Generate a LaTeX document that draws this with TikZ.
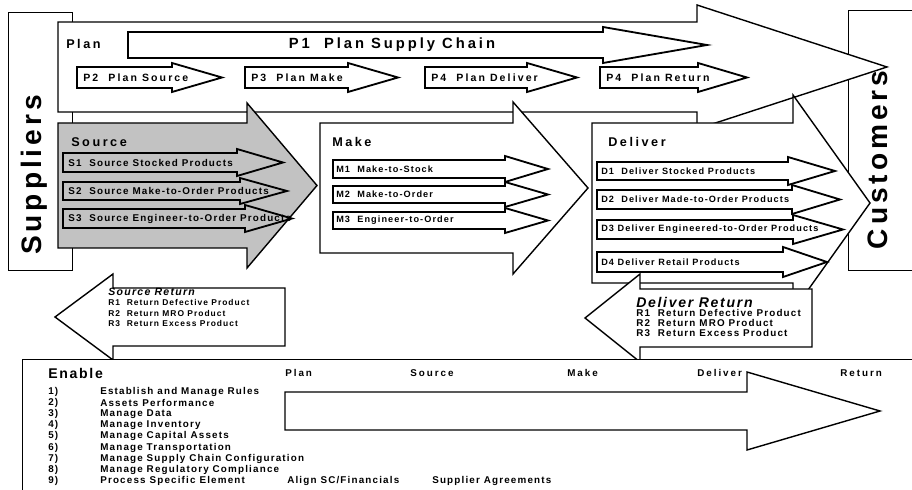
\documentclass[tikz,border=0pt]{standalone}
\usepackage{fontspec}
\setmainfont{Liberation Sans}
\newfontfamily\scorwide{Liberation Sans}[LetterSpace=20]
\newfontfamily\scormid{Liberation Sans}[LetterSpace=12]
\newfontfamily\scorbig{Liberation Sans}[LetterSpace=14]
\usepackage{tikz}
\usetikzlibrary{positioning}
\definecolor{srcgray}{gray}{0.76}
\newcommand{\blockarrow}[7][]{%
  \draw[#1] (#2,#3) -- (#5,#3) -- (#5,#3-#6) -- (#7,{(#3+#4)/2})
    -- (#5,#4+#6) -- (#5,#4) -- (#2,#4) -- cycle;}
\tikzset{
  blk/.style={draw, line width=1pt, fill=white},
  sub/.style={draw, line width=1.3pt, fill=white},
  thinbox/.style={draw, line width=0.6pt, fill=white},
  side/.style={rotate=90, inner sep=0pt, font=\scorbig\bfseries\fontsize{20}{22}\selectfont},
  head/.style={anchor=west, inner sep=0pt, font=\scorwide\bfseries\fontsize{9}{10}\selectfont},
  ptext/.style={anchor=west, inner sep=0pt, font=\scorwide\bfseries\fontsize{7.5}{9}\selectfont},
  stext/.style={anchor=west, inner sep=0pt, font=\scormid\bfseries\fontsize{6.5}{8}\selectfont},
  rtitle/.style={anchor=west, inner sep=0pt, font=\scormid\bfseries\itshape\fontsize{7.5}{9}\selectfont},
  rtext/.style={anchor=west, inner sep=0pt, font=\scormid\bfseries\fontsize{6}{7}\selectfont},
  etext/.style={anchor=west, inner sep=0pt, font=\scormid\bfseries\fontsize{7}{8}\selectfont}
}

\begin{document}
\begin{tikzpicture}[x=0.025cm, y=-0.025cm]
          \useasboundingbox (0,0) rectangle (912,490);
          \clip (0,0) rectangle (912,490);

          \draw[thinbox] (8,12) rectangle (72,270);
          \node[side] (suppliers) at (34,175) {Suppliers};
          \draw[thinbox] (848,10) rectangle (925,270);
          \node[side] (customers) at (878,160) {Customers};

          \blockarrow[blk]{58}{22}{112}{697}{17}{887}
          \node[head] (plan) at (66,44) {Plan};
          \blockarrow[sub]{128}{32}{58}{603}{5}{707}
          \node[ptext, anchor=center, font=\scorwide\bfseries\fontsize{10.5}{12}\selectfont] (p1) at (392,45) {P1~~Plan Supply Chain};
          \blockarrow[sub]{77}{67}{88}{172}{4}{222}
          \node[ptext] (p2) at (83,77.5) {P2~~Plan Source};
          \blockarrow[sub]{245}{67}{88}{348}{4}{398}
          \node[ptext] (p3) at (251,77.5) {P3~~Plan Make};
          \blockarrow[sub]{425}{67}{88}{527}{4}{577}
          \node[ptext] (p4d) at (431,77.5) {P4~~Plan Deliver};
          \blockarrow[sub]{600}{67}{88}{698}{4}{747}
          \node[ptext] (p4r) at (606,77.5) {P4~~Plan Return};

          \blockarrow[blk, fill=srcgray]{58}{123}{248}{247}{20}{317}
          \node[head] (source) at (71,142) {Source};
          \blockarrow[sub, fill=srcgray]{63}{153}{172}{237}{4}{283}
          \node[stext, font=\scormid\bfseries\fontsize{7}{8}\selectfont] (s1) at (68,162.5) {S1~~Source Stocked Products};
          \blockarrow[sub, fill=srcgray]{63}{182}{200}{240}{4}{287}
          \node[stext, font=\scormid\bfseries\fontsize{7}{8}\selectfont] (s2) at (68,191) {S2~~Source Make-to-Order Products};
          \blockarrow[sub, fill=srcgray]{63}{209}{228}{245}{4}{292}
          \node[stext, font=\scormid\bfseries\fontsize{7}{8}\selectfont] (s3) at (68,218.5) {S3~~Source Engineer-to-Order Products};

          \blockarrow[blk]{320}{123}{253}{513}{21}{588}
          \node[head] (make) at (332,142) {Make};
          \blockarrow[sub]{333}{160}{178}{505}{4}{548}
          \node[stext] (m1) at (336,169) {M1~~Make-to-Stock};
          \blockarrow[sub]{333}{186}{203}{505}{4}{548}
          \node[stext] (m2) at (336,194.5) {M2~~Make-to-Order};
          \blockarrow[sub]{333}{212}{229}{505}{4}{548}
          \node[stext] (m3) at (336,220.5) {M3~~Engineer-to-Order};

          \blockarrow[blk]{592}{123}{283}{793}{28}{870}
          \node[head] (deliver) at (608,142) {Deliver};
          \blockarrow[sub]{597}{162}{180}{788}{5}{835}
          \node[stext] (d1) at (601,171) {D1~~Deliver Stocked Products};
          \blockarrow[sub]{597}{190}{209}{792}{5}{840}
          \node[stext] (d2) at (601,199.5) {D2~~Deliver Made-to-Order Products};
          \blockarrow[sub]{597}{220}{239}{793}{5}{843}
          \node[stext] (d3) at (601,229.5) {D3 Deliver Engineered-to-Order Products};
          \blockarrow[sub]{597}{252}{272}{783}{5}{827}
          \node[stext] (d4) at (601,262) {D4 Deliver Retail Products};

          \blockarrow[blk]{285}{288}{346}{113}{14}{55}
          \node[rtitle] (sret) at (108,292) {Source Return};
          \node[rtext] (sr1) at (108,302.5) {R1~~Return Defective Product};
          \node[rtext] (sr2) at (108,313) {R2~~Return MRO Product};
          \node[rtext] (sr3) at (108,323.5) {R3~~Return Excess Product};

          \blockarrow[blk]{812}{289}{347}{640}{15}{585}
          \node[rtitle, font=\scormid\bfseries\itshape\fontsize{10}{12}\selectfont] (dret) at (636,302) {Deliver Return};
          \node[rtext, font=\scormid\bfseries\fontsize{7}{8}\selectfont] (dr1) at (636,313) {R1~~Return Defective Product};
          \node[rtext, font=\scormid\bfseries\fontsize{7}{8}\selectfont] (dr2) at (636,323) {R2~~Return MRO Product};
          \node[rtext, font=\scormid\bfseries\fontsize{7}{8}\selectfont] (dr3) at (636,333) {R3~~Return Excess Product};

          \draw[thinbox] (22,359) rectangle (925,500);
          \node[head, font=\scormid\bfseries\fontsize{10}{12}\selectfont] (enable) at (48,373) {Enable};
          \node[ptext, font=\scorwide\bfseries\fontsize{7}{8}\selectfont] (eplan) at (285,373) {Plan};
          \node[ptext, font=\scorwide\bfseries\fontsize{7}{8}\selectfont] (esource) at (410,373) {Source};
          \node[ptext, font=\scorwide\bfseries\fontsize{7}{8}\selectfont] (emake) at (567,373) {Make};
          \node[ptext, font=\scorwide\bfseries\fontsize{7}{8}\selectfont] (edeliver) at (697,373) {Deliver};
          \node[ptext, font=\scorwide\bfseries\fontsize{7}{8}\selectfont] (ereturn) at (840,373) {Return};
          \blockarrow[blk]{285}{392}{430}{747}{20}{880}

          \node[etext] (n1) at (48,392) {1)};
          \node[etext] (n2) at (48,403.1) {2)};
          \node[etext] (n3) at (48,414.2) {3)};
          \node[etext] (n4) at (48,425.3) {4)};
          \node[etext] (n5) at (48,436.4) {5)};
          \node[etext] (n6) at (48,447.5) {6)};
          \node[etext] (n7) at (48,458.6) {7)};
          \node[etext] (n8) at (48,469.7) {8)};
          \node[etext] (n9) at (48,480.8) {9)};
          \node[etext] (i1) at (100,392) {Establish and Manage Rules};
          \node[etext] (i2) at (100,403.1) {Assets Performance};
          \node[etext] (i3) at (100,414.2) {Manage Data};
          \node[etext] (i4) at (100,425.3) {Manage Inventory};
          \node[etext] (i5) at (100,436.4) {Manage Capital Assets};
          \node[etext] (i6) at (100,447.5) {Manage Transportation};
          \node[etext] (i7) at (100,458.6) {Manage Supply Chain Configuration};
          \node[etext] (i8) at (100,469.7) {Manage Regulatory Compliance};
          \node[etext] (i9) at (100,480.8) {Process Specific Element};
          \node[etext] (align) at (287,480.8) {Align SC/Financials};
          \node[etext] (suppagr) at (432,480.8) {Supplier Agreements};
        \end{tikzpicture}
\end{document}
